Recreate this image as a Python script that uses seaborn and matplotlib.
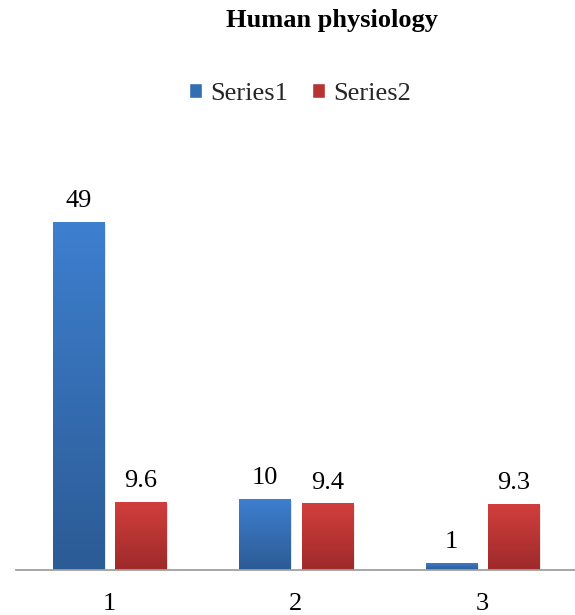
import numpy as np
import pandas as pd
import matplotlib
matplotlib.use("Agg")
import matplotlib.pyplot as plt
import matplotlib.colors as mcolors
import matplotlib.patheffects as pe
import seaborn as sns

# ---- data ----
categories = ["1", "2", "3"]
series_names = ["Series1", "Series2"]
series1 = [49, 10, 1]
series2 = [9.6, 9.4, 9.3]
title = "Human physiology"

df = pd.DataFrame({
    "category": categories * 2,
    "series": [series_names[0]] * 3 + [series_names[1]] * 3,
    "value": series1 + series2,
})

sns.set_theme(style="white")
plt.rcParams["font.family"] = ["Liberation Serif", "DejaVu Serif"]

FS = 19
top_cols = {"Series1": "#3E7FCF", "Series2": "#D13F3D"}
bot_cols = {"Series1": "#2C5B95", "Series2": "#9E2A2A"}
mid_cols = {k: mcolors.to_hex((np.array(mcolors.to_rgb(top_cols[k])) + np.array(mcolors.to_rgb(bot_cols[k]))) / 2) for k in top_cols}

fig = plt.figure(figsize=(5.75, 6.15), dpi=100)
ax = fig.add_axes([16 / 575, 45 / 615, 560 / 575, 419 / 615])

sns.barplot(data=df, x="category", y="value", hue="series", order=categories,
            hue_order=series_names, palette=mid_cols, width=0.667, gap=0.18,
            saturation=1, ax=ax, legend=True)

ax.set_xlim(-0.5, 2.5)
ax.set_ylim(0, 59)

# gradient fill for each bar, with a faint shadow
for cont, name in zip(ax.containers, series_names):
    c1 = np.array(mcolors.to_rgb(bot_cols[name]))
    c2 = np.array(mcolors.to_rgb(top_cols[name]))
    t = np.linspace(0, 1, 256)[:, None]
    grad = (c1 * (1 - t) + c2 * t)[:, None, :]
    for p in cont.patches:
        p.set_path_effects([pe.SimplePatchShadow(offset=(1.5, -1.5), shadow_rgbFace="black", alpha=0.12),
                            pe.Normal()])
        x0, y0 = p.get_x(), p.get_y()
        w, h = p.get_width(), p.get_height()
        im = ax.imshow(grad, extent=[x0, x0 + w, y0, y0 + h], origin="lower",
                       aspect="auto", zorder=p.get_zorder() + 0.1, interpolation="bilinear")
        im.set_clip_path(p)
    ax.bar_label(cont, fmt="%g", padding=7, fontsize=FS, color="black")

ax.set_xlim(-0.5, 2.5)
ax.set_ylim(0, 59)

for s in ["top", "left", "right"]:
    ax.spines[s].set_visible(False)
ax.spines["bottom"].set_color("#A0A0A0")
ax.spines["bottom"].set_linewidth(1.3)
ax.spines["bottom"].set_zorder(5)
ax.set_yticks([])
ax.set_xlabel("")
ax.set_ylabel("")
ax.tick_params(axis="x", length=0, pad=16.5, labelsize=FS, labelcolor="black")

handles, labels = ax.get_legend_handles_labels()
ax.get_legend().remove()
for h, name in zip(handles, labels):
    h.set_facecolor(mid_cols[name])
fig.legend(handles, labels, loc="center", bbox_to_anchor=(300 / 575, 1 - 94 / 615),
           ncol=2, frameon=False, fontsize=FS, handlelength=0.5, handleheight=0.5,
           handletextpad=0.3, columnspacing=0.9)

fig.text(332 / 575, 1 - 21 / 615, title, ha="center", va="center",
         fontsize=FS, fontweight="bold", color="black")

fig.savefig("out.png", dpi=100, facecolor="white")
